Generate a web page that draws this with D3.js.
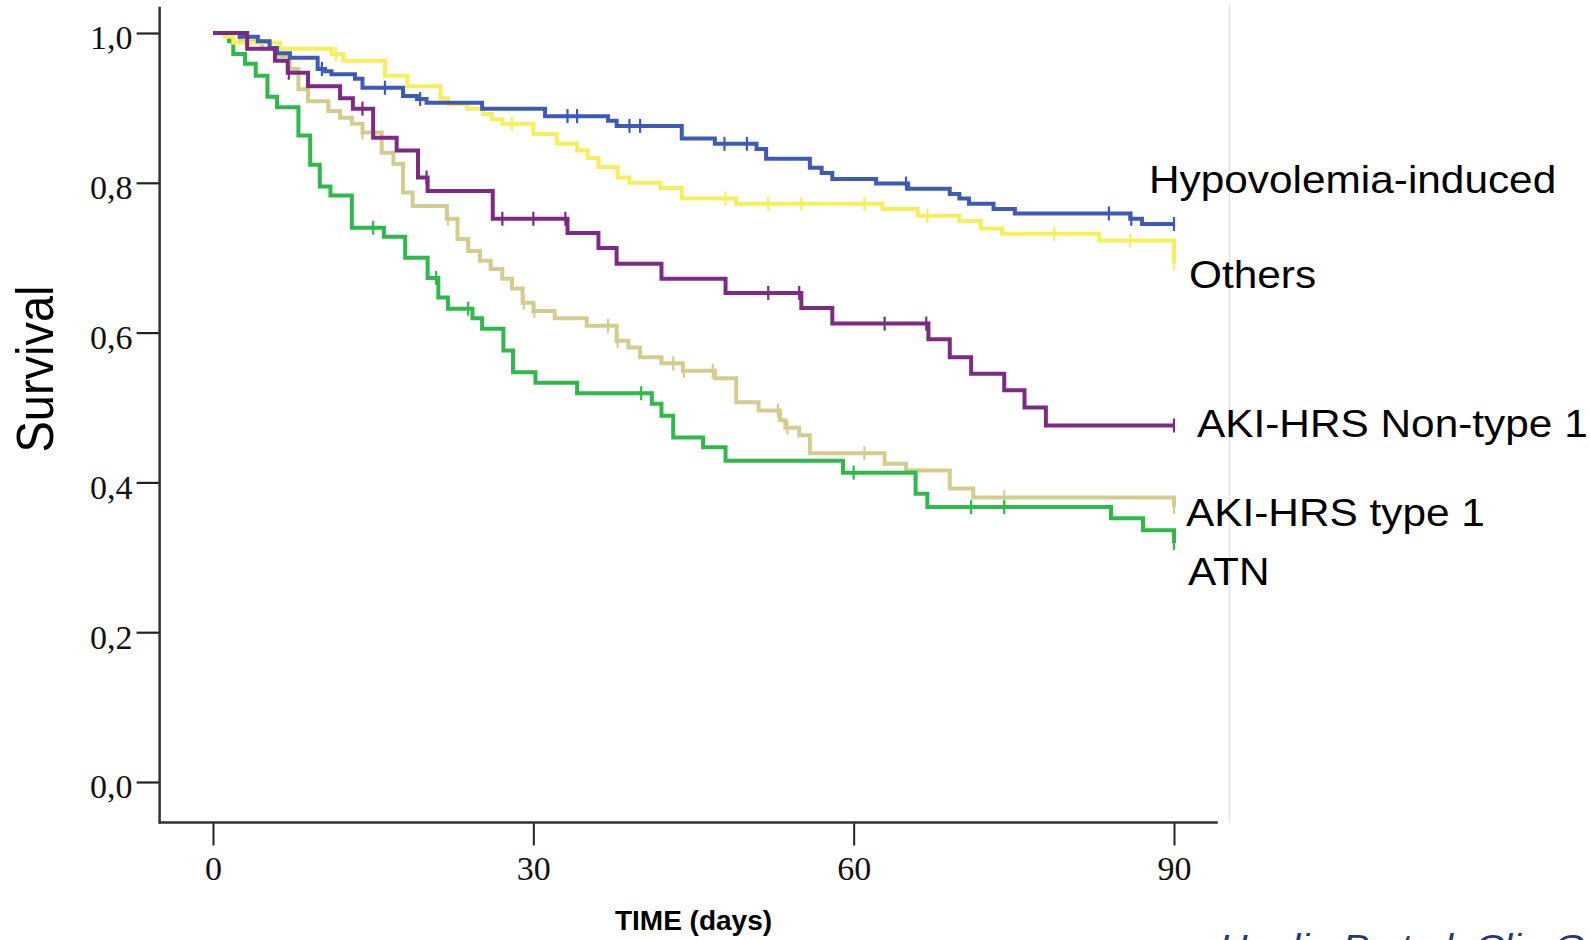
<!DOCTYPE html>
<html>
<head>
<meta charset="utf-8">
<script src="https://cdn.jsdelivr.net/npm/d3@7"></script>
<style>
  body { margin: 0; background: #fff; overflow: hidden; }
  svg { display: block; }
  .tick text { font-family: "Liberation Serif", "Times New Roman", serif; font-size: 34px; fill: #111; }
  .label { font-family: "Liberation Sans", Arial, sans-serif; font-size: 38.5px; fill: #000; }
</style>
</head>
<body>
<svg id="chart" width="1590" height="940"></svg>
<script>
// Kaplan-Meier steps: time of each drop (days) and survival after it
const hypoTimes = [2.5, 4.2, 5.3, 6.0, 7.2, 9.8, 10.5, 11.1, 13.3, 14.0, 17.8, 19.1, 20.0, 25.2, 31.1, 37.0, 37.8, 43.9, 47.0, 50.9, 51.8, 55.9, 57.0, 58.0, 62.1, 65.1, 69.0, 69.9, 70.8, 73.1, 75.1, 85.9, 87.0];
const hypoSurv = [0.995, 0.989, 0.980, 0.973, 0.967, 0.952, 0.949, 0.945, 0.939, 0.927, 0.916, 0.912, 0.907, 0.899, 0.889, 0.883, 0.876, 0.859, 0.852, 0.845, 0.832, 0.820, 0.813, 0.805, 0.799, 0.792, 0.785, 0.779, 0.772, 0.765, 0.759, 0.752, 0.745];
const hypoCensor = [10.2, 16.1, 19.4, 33.2, 34.1, 39.0, 40.0, 47.9, 50.0, 64.9, 83.9, 86.0, 90];

const othersTimes = [1.1, 1.9, 6.3, 11.1, 12.2, 16.1, 18.2, 21.3, 22.0, 23.8, 25.3, 26.1, 27.1, 30.0, 32.2, 34.1, 35.1, 36.1, 37.9, 39.0, 41.9, 43.9, 49.0, 62.7, 66.0, 69.9, 71.9, 73.9, 83.0, 90];
const othersSurv = [0.995, 0.987, 0.979, 0.972, 0.963, 0.943, 0.929, 0.913, 0.905, 0.899, 0.892, 0.885, 0.879, 0.865, 0.852, 0.843, 0.833, 0.821, 0.807, 0.800, 0.793, 0.779, 0.772, 0.765, 0.756, 0.749, 0.739, 0.732, 0.723, 0.692];
const othersCensor = [11.5, 28.0, 48.0, 52.0, 55.1, 61.0, 66.9, 78.8, 85.9, 90];

const nonType1Times = [3.2, 5.8, 7.0, 8.9, 11.9, 13.1, 15.0, 17.2, 19.2, 20.1, 26.2, 33.2, 36.1, 37.8, 42.0, 48.0, 55.1, 58.0, 67.0, 69.0, 71.0, 74.1, 76.0, 78.0];
const nonType1Surv = [0.979, 0.963, 0.947, 0.929, 0.913, 0.899, 0.860, 0.843, 0.807, 0.789, 0.752, 0.733, 0.713, 0.692, 0.672, 0.653, 0.633, 0.612, 0.591, 0.567, 0.545, 0.523, 0.500, 0.476];
const nonType1Censor = [7.1, 14.0, 20.0, 27.1, 30.0, 33.0, 52.0, 54.9, 62.9, 66.8, 90];

const type1Times = [2.5, 4.6, 6.0, 7.2, 8.0, 8.9, 10.8, 11.9, 13.0, 14.0, 15.8, 16.9, 17.8, 18.7, 21.9, 22.9, 23.9, 25.0, 26.0, 27.1, 28.0, 29.0, 30.0, 32.0, 35.0, 37.8, 38.9, 40.0, 42.0, 44.0, 47.0, 49.0, 51.1, 53.1, 53.6, 54.9, 55.9, 62.9, 64.9, 69.0, 71.2, 90];
const type1Surv = [0.989, 0.979, 0.969, 0.952, 0.925, 0.909, 0.896, 0.887, 0.879, 0.867, 0.840, 0.825, 0.787, 0.769, 0.752, 0.725, 0.709, 0.696, 0.685, 0.672, 0.659, 0.640, 0.629, 0.619, 0.609, 0.589, 0.580, 0.567, 0.559, 0.549, 0.539, 0.507, 0.496, 0.483, 0.473, 0.463, 0.439, 0.425, 0.416, 0.392, 0.380, 0.367];
const type1Censor = [14.0, 22.0, 29.1, 30.1, 37.0, 37.9, 43.1, 44.1, 46.8, 52.9, 53.8, 61.0, 74.1, 90];

const atnTimes = [1.5, 1.9, 3.0, 4.0, 5.1, 6.0, 8.0, 9.1, 10.0, 11.0, 13.0, 16.0, 18.0, 20.1, 21.1, 22.0, 24.3, 25.2, 27.2, 28.1, 30.2, 34.1, 41.1, 42.0, 43.1, 45.9, 48.0, 59.0, 65.8, 66.9, 84.1, 87.1, 90];
const atnSurv = [0.989, 0.972, 0.959, 0.943, 0.915, 0.901, 0.863, 0.824, 0.795, 0.783, 0.740, 0.728, 0.700, 0.673, 0.647, 0.632, 0.619, 0.605, 0.576, 0.547, 0.533, 0.519, 0.505, 0.489, 0.460, 0.447, 0.429, 0.413, 0.385, 0.367, 0.352, 0.336, 0.319];
const atnCensor = [15.0, 20.9, 23.9, 40.1, 60.0, 71.0, 74.1, 90];

const yTicks = [0, 0.2, 0.4, 0.6, 0.8, 1.0];
const xTicks = [0, 30, 60, 90];

const svg = d3.select("#chart");

const x = d3.scaleLinear().domain([0, 90]).range([213, 1174]);
const y = d3.scaleLinear().domain([0, 1]).range([782, 33]);

const series = [
  { name: "AKI-HRS type 1", color: "#d4cc8e", times: type1Times, surv: type1Surv, censor: type1Censor, lx: 1186, ly: 526 },
  { name: "ATN", color: "#2fb84b", times: atnTimes, surv: atnSurv, censor: atnCensor, lx: 1188, ly: 585 },
  { name: "Others", color: "#f6ef5b", times: othersTimes, surv: othersSurv, censor: othersCensor, lx: 1189, ly: 288 },
  { name: "Hypovolemia-induced", color: "#3d5ab6", times: hypoTimes, surv: hypoSurv, censor: hypoCensor, lx: 1149, ly: 193 },
  { name: "AKI-HRS Non-type 1", color: "#7b2b84", times: nonType1Times, surv: nonType1Surv, censor: nonType1Censor, lx: 1197, ly: 437 }
];

function survAt(s, t) {
  let v = 1;
  s.times.forEach((tt, i) => { if (tt <= t + 1e-9) v = s.surv[i]; });
  return v;
}

function stepPoints(s) {
  const pts = [[0, 1]].concat(s.times.map((t, i) => [t, s.surv[i]]));
  if (pts[pts.length - 1][0] < 90) pts.push([90, pts[pts.length - 1][1]]);
  return pts;
}

// light frame line on the right
svg.append("line")
  .attr("x1", x(95.2)).attr("x2", x(95.2))
  .attr("y1", 5).attr("y2", y(-0.054))
  .attr("stroke", "#e2e2e2").attr("stroke-width", 1.5);

// axes
const yAxis = d3.axisLeft(y)
  .tickValues(yTicks)
  .tickSize(23)
  .tickPadding(4)
  .tickFormat(d => d3.format(".1f")(d).replace(".", ","));

const gy = svg.append("g").attr("transform", `translate(${x(-5)},0)`).call(yAxis);
gy.select(".domain").remove();
gy.selectAll(".tick line").attr("stroke", "#222").attr("stroke-width", 2.2);
gy.selectAll(".tick text").attr("dy", "0.47em");

const xAxis = d3.axisBottom(x)
  .tickValues(xTicks)
  .tickSize(23)
  .tickPadding(10);

const gx = svg.append("g").attr("transform", `translate(0,${y(-0.054)})`).call(xAxis);
gx.select(".domain").remove();
gx.selectAll(".tick line").attr("stroke", "#222").attr("stroke-width", 2);

svg.append("line")
  .attr("x1", x(-5)).attr("x2", x(-5))
  .attr("y1", y(1.035)).attr("y2", y(-0.054) + 1)
  .attr("stroke", "#333").attr("stroke-width", 2.5);

svg.append("line")
  .attr("x1", x(-5) - 1).attr("x2", x(94.1))
  .attr("y1", y(-0.054)).attr("y2", y(-0.054))
  .attr("stroke", "#333").attr("stroke-width", 2.5);

// survival curves
const line = d3.line()
  .x(d => x(d[0]))
  .y(d => y(d[1]))
  .curve(d3.curveStepAfter);

series.forEach(s => {
  svg.append("path")
    .datum(stepPoints(s))
    .attr("fill", "none")
    .attr("stroke", s.color)
    .attr("stroke-width", 4)
    .attr("d", line);

  svg.selectAll(null)
    .data(s.censor)
    .enter()
    .append("line")
    .attr("x1", d => x(d)).attr("x2", d => x(d))
    .attr("y1", d => y(survAt(s, d)) - 7)
    .attr("y2", d => y(survAt(s, d)) + 7)
    .attr("stroke", s.color)
    .attr("stroke-width", 2.2);
});

// group labels
series.forEach(s => {
  svg.append("text")
    .attr("class", "label")
    .attr("transform", `translate(${s.lx},${s.ly}) scale(1.1,1)`)
    .text(s.name);
});

// axis titles
svg.append("text")
  .attr("transform", `translate(53,369) scale(1.12,1) rotate(-90)`)
  .attr("text-anchor", "middle")
  .style("font-family", "'Liberation Sans', Arial, sans-serif")
  .style("font-size", "47px")
  .text("Survival");

svg.append("text")
  .attr("x", x(45)).attr("y", 930)
  .attr("text-anchor", "middle")
  .style("font-family", "'Liberation Sans', Arial, sans-serif")
  .style("font-weight", "bold")
  .style("font-size", "28px")
  .text("TIME (days)");

// source note, cut by the bottom edge
svg.append("text")
  .attr("transform", "translate(1219,959) scale(1.1,1)")
  .style("font-family", "'Liberation Sans', Arial, sans-serif")
  .style("font-style", "italic")
  .style("font-size", "36px")
  .style("fill", "#1f3a7c")
  .text("Huelin P et al. Clin Gastroenterol Hepatol 2017");
</script>
</body>
</html>
